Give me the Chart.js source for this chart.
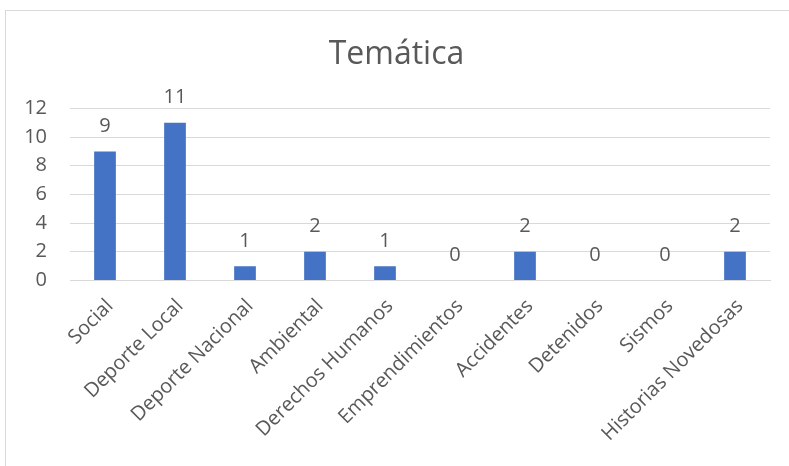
<!DOCTYPE html>
<html>
<head>
<meta charset="utf-8">
<script src="https://cdn.jsdelivr.net/npm/chart.js@4.4.1/dist/chart.umd.min.js"></script>
<style>
    html, body { margin: 0; padding: 0; background: #fff; overflow: hidden; }
    #frame { position: absolute; left: 5px; top: 10px; width: 820px; height: 480px; border: 1px solid #d9d9d9; }
    #wrap { position: absolute; left: 0; top: 0; width: 789px; height: 466px; }
</style>
</head>
<body>
<div id="frame"></div>
<div id="wrap"><canvas id="tem"></canvas></div>
<script>
const categories = ['Social', 'Deporte Local', 'Deporte Nacional', 'Ambiental', 'Derechos Humanos',
    'Emprendimientos', 'Accidentes', 'Detenidos', 'Sismos', 'Historias Novedosas'];
const counts = [9, 11, 1, 2, 1, 0, 2, 0, 0, 2];
const yTicks = [0, 2, 4, 6, 8, 10, 12];

const textColor = '#595959';
const font = "'Open Sans', 'Noto Sans', sans-serif";

// valores encima de cada barra
const valueLabels = {
    id: 'valueLabels',
    afterDatasetsDraw(chart) {
        const c = chart.ctx;
        const meta = chart.getDatasetMeta(0);
        c.save();
        c.font = '20px ' + font;
        c.fillStyle = textColor;
        c.textAlign = 'center';
        c.textBaseline = 'middle';
        meta.data.forEach((bar, i) => {
            c.fillText(counts[i], bar.x, bar.y - 25);
        });
        c.restore();
    }
};

const ctx = document.getElementById('tem').getContext('2d');
const chart = new Chart(ctx, {
    type: 'bar',
    data: {
        labels: categories,
        datasets: [{
            data: counts,
            backgroundColor: '#4472C4',
            barPercentage: 0.31,
            categoryPercentage: 1.0,
        }]
    },
    options: {
        responsive: true,
        maintainAspectRatio: false,
        animation: false,
        layout: {
            padding: { left: 23, right: 19, top: 0, bottom: 6 }
        },
        plugins: {
            legend: { display: false },
            tooltip: { enabled: false },
            title: {
                display: true,
                text: 'Temática',
                color: textColor,
                font: { family: font, size: 32, weight: 'normal' },
                padding: { top: 36, bottom: 34 }
            }
        },
        scales: {
            x: {
                grid: { display: false, drawTicks: false },
                border: { display: true, color: '#d9d9d9', width: 1 },
                ticks: {
                    color: textColor,
                    font: { family: font, size: 20 },
                    minRotation: 45,
                    maxRotation: 45,
                    autoSkip: false,
                    padding: 14,
                    labelOffset: 5
                },
                afterFit: (axis) => {
                    axis.paddingLeft = 0;
                    axis.paddingRight = 0;
                }
            },
            y: {
                min: 0,
                max: 12,
                afterBuildTicks: (axis) => {
                    axis.ticks = yTicks.map(v => ({ value: v }));
                },
                afterFit: (axis) => {
                    axis.width = 47;
                    axis.paddingTop = 0;
                    axis.paddingBottom = 0;
                },
                grid: { color: '#d9d9d9', drawTicks: false },
                border: { display: false },
                ticks: {
                    color: textColor,
                    font: { family: font, size: 20 },
                    padding: 23
                }
            }
        }
    },
    plugins: [valueLabels]
});
</script>
</body>
</html>
